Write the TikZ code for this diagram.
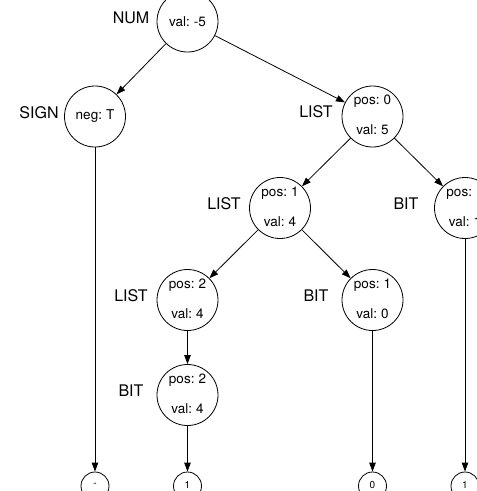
\documentclass[tikz,border=0pt]{standalone}
\usepackage{fontspec}
\setmainfont{TeX Gyre Heros}
\usetikzlibrary{arrows.meta}
\begin{document}
\begin{tikzpicture}[x=1pt,y=-1pt,
  nd/.style={circle,draw,line width=0.8pt,minimum size=61pt,inner sep=0pt},
  leaf/.style={circle,draw,line width=0.8pt,minimum size=28pt,inner sep=0pt,font=\fontsize{10}{10}\selectfont},
  lbl/.style={font=\fontsize{16}{16}\selectfont,inner sep=0pt},
  attr/.style={font=\fontsize{13.5}{13.5}\selectfont,inner sep=0pt},
  edge/.style={draw,line width=0.8pt,-{Triangle[length=9pt,width=6.5pt]}}]
\useasboundingbox (0,0) rectangle (477,491);
\clip (0,0) rectangle (477,491);
% main nodes
\node[nd] (num) at (187.5,21.5) {};
\node[nd] (sign) at (95,116.5) {};
\node[nd] (l0) at (372.5,116.5) {};
\node[nd] (l1) at (280,208) {};
\node[nd] (b3) at (465,208) {};
\node[nd] (l2) at (187.5,300) {};
\node[nd] (b1) at (372.5,300) {};
\node[nd] (b2) at (187.5,395) {};
% leaves
\node[leaf] (f1) at (95,486) {\raisebox{3pt}{-}};
\node[leaf] (f2) at (187.5,486) {\raisebox{3pt}{1}};
\node[leaf] (f3) at (372.5,486) {\raisebox{3pt}{0}};
\node[leaf] (f4) at (465,486) {\raisebox{3pt}{1}};
% outer labels
\node[lbl] (tnum) at (131,18) {NUM};
\node[lbl] (tsign) at (39,113) {SIGN};
\node[lbl] (tl0) at (316,112) {LIST};
\node[lbl] (tl1) at (224,204) {LIST};
\node[lbl] (tb3) at (406,204) {BIT};
\node[lbl] (tl2) at (131,296) {LIST};
\node[lbl] (tb1) at (316,296) {BIT};
\node[lbl] (tb2) at (131,391) {BIT};
% inner texts
\node[attr] (anum) at (187.5,21.5) {val:\hspace{4pt}-5};
\node[attr] (asign) at (95,116.5) {neg:\hspace{4pt}T};
\node[attr] (pl0) at (372.5,101) {pos:\hspace{4pt}0};
\node[attr] (vl0) at (372.5,130) {val:\hspace{4pt}5};
\node[attr] (pl1) at (280,193) {pos:\hspace{4pt}1};
\node[attr] (vl1) at (280,222) {val:\hspace{4pt}4};
\node[attr] (pb3) at (465,193) {pos:\hspace{4pt}1};
\node[attr] (vb3) at (465,222) {val:\hspace{4pt}1};
\node[attr] (pl2) at (187.5,285) {pos:\hspace{4pt}2};
\node[attr] (vl2) at (187.5,314) {val:\hspace{4pt}4};
\node[attr] (pb1) at (372.5,285) {pos:\hspace{4pt}1};
\node[attr] (vb1) at (372.5,314) {val:\hspace{4pt}0};
\node[attr] (pb2) at (187.5,380) {pos:\hspace{4pt}2};
\node[attr] (vb2) at (187.5,409) {val:\hspace{4pt}4};
% edges
\path[edge] (num) -- (sign);
\path[edge] (num) -- (l0);
\path[edge] (l0) -- (l1);
\path[edge] (l0) -- (b3);
\path[edge] (l1) -- (l2);
\path[edge] (l1) -- (b1);
\path[edge] (l2) -- (b2);
\path[edge] (sign) -- (f1);
\path[edge] (b2) -- (f2);
\path[edge] (b1) -- (f3);
\path[edge] (b3) -- (f4);
\end{tikzpicture}
\end{document}
